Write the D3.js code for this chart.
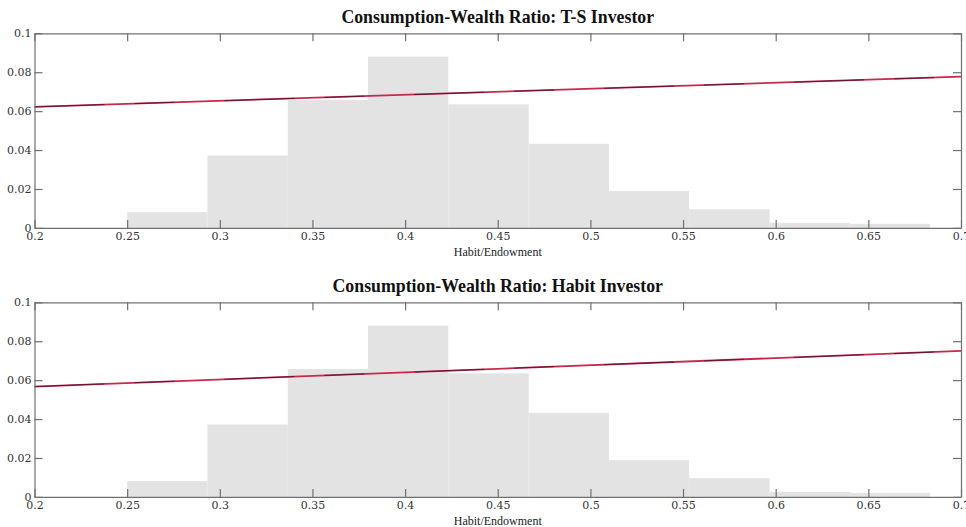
<!DOCTYPE html>
<html>
<head>
<meta charset="utf-8">
<script src="https://cdn.jsdelivr.net/npm/d3@7"></script>
<style>
  body { margin: 0; background: #fff; }
  .tick text { font-family: "DejaVu Serif", serif; font-size: 11px; fill: #333; }
  .title { font-family: "Liberation Serif", serif; font-weight: bold; font-size: 17.8px; fill: #111; }
  .xlabel { font-family: "Liberation Serif", serif; font-size: 12px; fill: #222; }
</style>
</head>
<body>
<script>
// histogram bins (left edges), shared by both panels
var binEdges = [0.25, 0.2933, 0.3367, 0.38, 0.4233, 0.4667, 0.51, 0.5533, 0.5967, 0.64, 0.6833];
var binHeights = [0.0081, 0.0372, 0.0657, 0.0880, 0.0635, 0.0432, 0.0189, 0.0096, 0.0026, 0.0021];

var xTicks = [0.2, 0.25, 0.3, 0.35, 0.4, 0.45, 0.5, 0.55, 0.6, 0.65, 0.7];
var yTicks = [0, 0.02, 0.04, 0.06, 0.08, 0.1];

var titles = ["Consumption-Wealth Ratio: T-S Investor", "Consumption-Wealth Ratio: Habit Investor"];
// line endpoints (x = 0.2 and x = 0.7) per panel
var lineX = [0.2, 0.7];
var lineTS = [0.0622, 0.0777];
var lineHabit = [0.0567, 0.0750];
var lines = [lineTS, lineHabit];

var W = 966, H = 527;
var left = 34.5, right = 961;
var panelTops = [33.3, 302.3];
var panelH = 194.6;

var svg = d3.select("body").append("svg")
  .attr("width", W)
  .attr("height", H);

var x = d3.scaleLinear().domain([0.2, 0.7]).range([left, right]);

var bins = binHeights.map(function(v, i){
  return {x0: binEdges[i], x1: binEdges[i + 1], value: v};
});

panelTops.forEach(function(top, p){
  var y = d3.scaleLinear().domain([0, 0.1]).range([top + panelH, top]);
  var g = svg.append("g");

  g.selectAll(".bar")
    .data(bins)
    .enter()
      .append("rect")
      .classed("bar", true)
      .attr("x", function(d){ return x(d.x0); })
      .attr("y", function(d){ return y(d.value); })
      .attr("width", function(d){ return x(d.x1) - x(d.x0); })
      .attr("height", function(d){ return y(0) - y(d.value); })
      .style("fill", "#e3e3e3");

  var lineData = lineX.map(function(xv, i){ return [xv, lines[p][i]]; });
  var line = d3.line()
    .x(function(d){ return x(d[0]); })
    .y(function(d){ return y(d[1]); });

  g.append("path").datum(lineData)
    .attr("d", line)
    .attr("fill", "none")
    .attr("stroke", "#c8284a")
    .attr("stroke-width", 1.8);
  g.append("path").datum(lineData)
    .attr("d", line)
    .attr("fill", "none")
    .attr("stroke", "#2a0a28")
    .attr("stroke-width", 0.9)
    .attr("stroke-dasharray", "70,30,40,50")
    .attr("opacity", 0.75);

  // axes, MATLAB style ticks pointing inward
  var bottomAxis = d3.axisBottom(x).tickValues(xTicks).tickSizeInner(-8).tickSizeOuter(0)
    .tickPadding(4).tickFormat(d3.format("~g"));
  var topAxis = d3.axisTop(x).tickValues(xTicks).tickSizeInner(-8).tickSizeOuter(0).tickFormat("");
  var leftAxis = d3.axisLeft(y).tickValues(yTicks).tickSizeInner(-8).tickSizeOuter(0)
    .tickPadding(3).tickFormat(d3.format("~g"));
  var rightAxis = d3.axisRight(y).tickValues(yTicks).tickSizeInner(-8).tickSizeOuter(0).tickFormat("");

  var ax = [
    g.append("g").attr("transform", "translate(0," + y(0) + ")").call(bottomAxis),
    g.append("g").attr("transform", "translate(0," + y(0.1) + ")").call(topAxis),
    g.append("g").attr("transform", "translate(" + left + ",0)").call(leftAxis),
    g.append("g").attr("transform", "translate(" + right + ",0)").call(rightAxis)
  ];
  ax.forEach(function(a){
    a.selectAll("path, line").attr("stroke", "#707070").attr("stroke-width", 1.2);
  });

  g.append("text")
    .classed("title", true)
    .attr("x", (left + right) / 2)
    .attr("y", top - 10)
    .style("text-anchor", "middle")
    .text(titles[p]);

  g.append("text")
    .classed("xlabel", true)
    .attr("x", (left + right) / 2)
    .attr("y", y(0) + 28)
    .style("text-anchor", "middle")
    .text("Habit/Endowment");
});
</script>
</body>
</html>
